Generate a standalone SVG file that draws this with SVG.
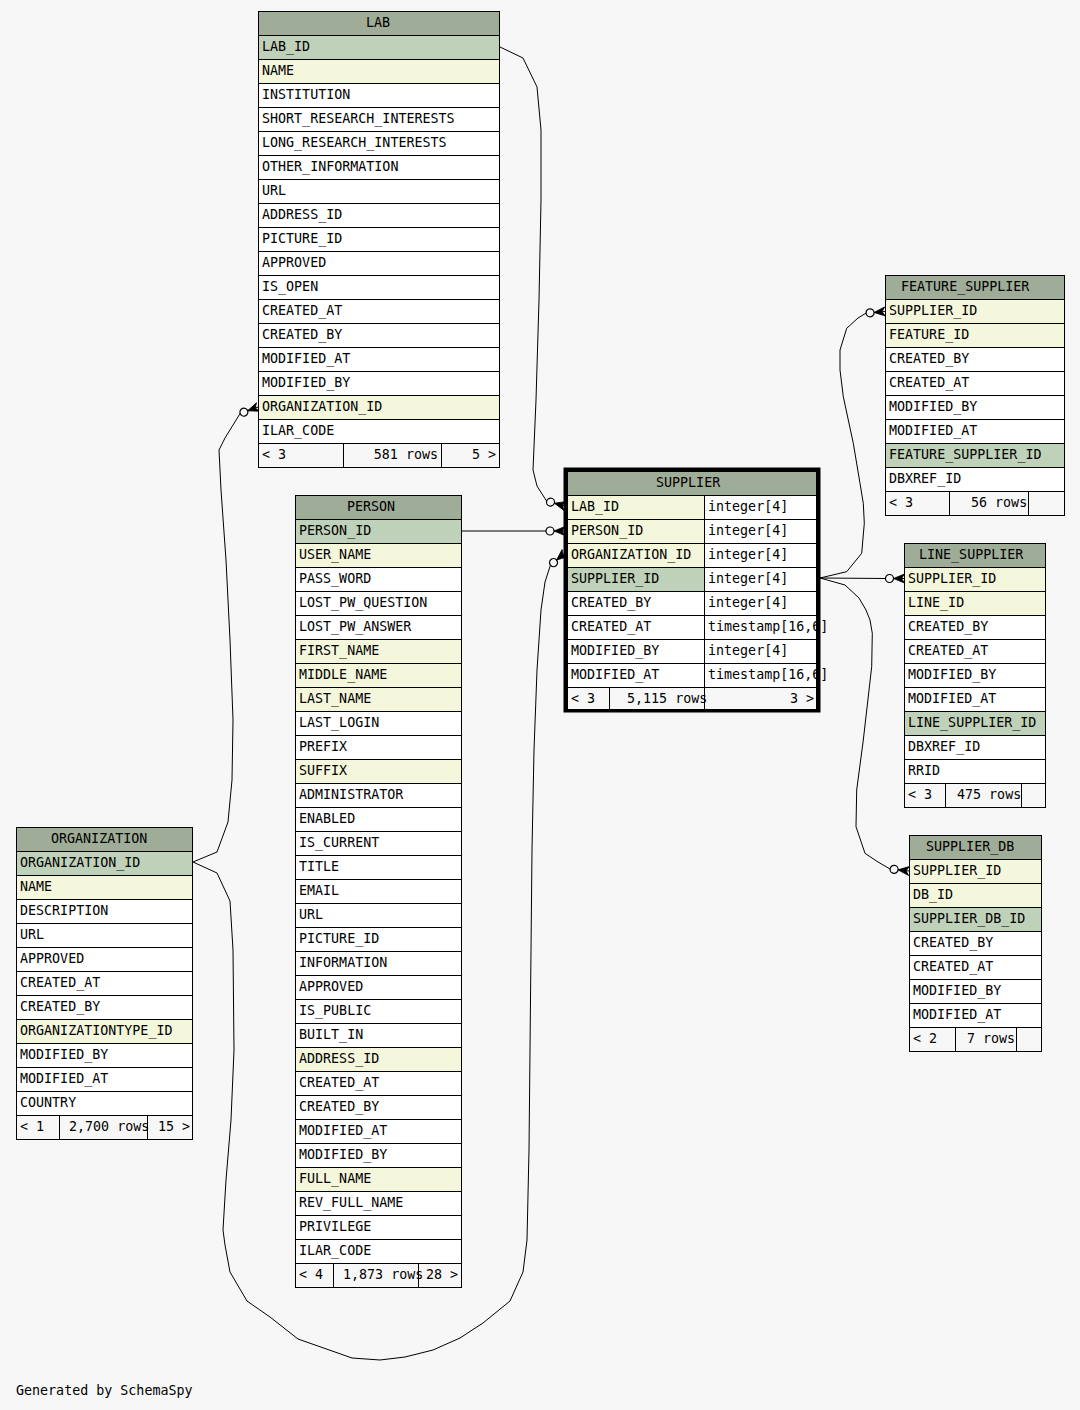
<svg xmlns="http://www.w3.org/2000/svg" xmlns:xlink="http://www.w3.org/1999/xlink" width="1080" height="1410" viewBox="0 0 1080 1410">
<style>
.t{font-family:"DejaVu Sans Mono","Liberation Mono",monospace;font-size:13.33px;fill:#000}
.e{text-anchor:end}
rect.c{stroke:#000;stroke-width:1}
.h{fill:#9fac97}.p{fill:#bfd1b9}.i{fill:#f4f7dc}.w{fill:#fff}.f{fill:#f7f7f7}
.ln{fill:none;stroke:#000;stroke-width:1}
.dv{stroke:#000;stroke-width:1}
</style>
<defs>
<g id="crow">
<circle cx="-15" cy="0" r="4" fill="none" stroke="#000" stroke-width="1.2"/>
<polygon points="-11,0 0,-4.5 -3,0 0,4.5" fill="#000" stroke="#000" stroke-width="0.8"/>
<line x1="-11" y1="0" x2="0" y2="0" stroke="#000" stroke-width="1"/>
</g>
</defs>
<rect x="0" y="0" width="1080" height="1410" fill="#f7f7f7"/>

<g id="connectors">
<polyline class="ln" points="500,47 523,58 537,87 541,130 541,200 539,300 536,400 533,470 537,486 546.6,501.1"/>
<use xlink:href="#crow" href="#crow" transform="translate(565,506) rotate(15)"/>
<polyline class="ln" points="461,531 546,531"/>
<use xlink:href="#crow" href="#crow" transform="translate(565,531)"/>
<polyline class="ln" points="193,862 217,873 230,901 233,950 234,1050 231,1120 226,1180 223,1230 225,1245 230,1272 247,1301 270,1317 298,1339 352,1358 380,1360 405,1357 433,1350 460,1338 483,1323 510,1301 523,1272 527,1240 529,1150 530,1050 531,950 532,850 534,750 537,670 541,610 545,582 550.4,565.2"/>
<use xlink:href="#crow" href="#crow" transform="translate(565,553) rotate(-40)"/>
<polyline class="ln" points="193,862 217,852 228,822 232,780 233,720 230,640 226,560 221,490 219,450 225,438 240.1,413.5"/>
<use xlink:href="#crow" href="#crow" transform="translate(258,407) rotate(-20)"/>
<polyline class="ln" points="820,578 846.7,571.7 861.7,553.3 864.3,523.3 863.3,503.3 860,483.3 853.3,443.3 848.3,420 843.3,396.7 840,370 840,350 846.7,328.3 858,318 866,313.1"/>
<use xlink:href="#crow" href="#crow" transform="translate(885,311.5) rotate(-5)"/>
<polyline class="ln" points="820,578 885.5,578.5"/>
<use xlink:href="#crow" href="#crow" transform="translate(904.5,578.5)"/>
<polyline class="ln" points="820,578 845,585 859,598 866,610 870,620 872.3,633.3 871.7,666.7 863.3,740 856.7,790 856,826.7 865,853.3 878,862 890.1,869"/>
<use xlink:href="#crow" href="#crow" transform="translate(909,871) rotate(6)"/>
</g>

<g id="LAB">
<rect class="c h" x="258.5" y="11.5" width="241" height="24"/><text class="t" x="366" y="27">LAB</text>
<rect class="c p" x="258.5" y="35.5" width="241" height="24"/><text class="t" x="262" y="51">LAB_ID</text>
<rect class="c i" x="258.5" y="59.5" width="241" height="24"/><text class="t" x="262" y="75">NAME</text>
<rect class="c w" x="258.5" y="83.5" width="241" height="24"/><text class="t" x="262" y="99">INSTITUTION</text>
<rect class="c w" x="258.5" y="107.5" width="241" height="24"/><text class="t" x="262" y="123">SHORT_RESEARCH_INTERESTS</text>
<rect class="c w" x="258.5" y="131.5" width="241" height="24"/><text class="t" x="262" y="147">LONG_RESEARCH_INTERESTS</text>
<rect class="c w" x="258.5" y="155.5" width="241" height="24"/><text class="t" x="262" y="171">OTHER_INFORMATION</text>
<rect class="c w" x="258.5" y="179.5" width="241" height="24"/><text class="t" x="262" y="195">URL</text>
<rect class="c w" x="258.5" y="203.5" width="241" height="24"/><text class="t" x="262" y="219">ADDRESS_ID</text>
<rect class="c w" x="258.5" y="227.5" width="241" height="24"/><text class="t" x="262" y="243">PICTURE_ID</text>
<rect class="c w" x="258.5" y="251.5" width="241" height="24"/><text class="t" x="262" y="267">APPROVED</text>
<rect class="c w" x="258.5" y="275.5" width="241" height="24"/><text class="t" x="262" y="291">IS_OPEN</text>
<rect class="c w" x="258.5" y="299.5" width="241" height="24"/><text class="t" x="262" y="315">CREATED_AT</text>
<rect class="c w" x="258.5" y="323.5" width="241" height="24"/><text class="t" x="262" y="339">CREATED_BY</text>
<rect class="c w" x="258.5" y="347.5" width="241" height="24"/><text class="t" x="262" y="363">MODIFIED_AT</text>
<rect class="c w" x="258.5" y="371.5" width="241" height="24"/><text class="t" x="262" y="387">MODIFIED_BY</text>
<rect class="c i" x="258.5" y="395.5" width="241" height="24"/><text class="t" x="262" y="411">ORGANIZATION_ID</text>
<rect class="c w" x="258.5" y="419.5" width="241" height="24"/><text class="t" x="262" y="435">ILAR_CODE</text>
<rect class="c f" x="258.5" y="443.5" width="241" height="24"/>
<line class="dv" x1="343.5" y1="443.5" x2="343.5" y2="467.5"/><line class="dv" x1="441.5" y1="443.5" x2="441.5" y2="467.5"/>
<text class="t" x="262" y="459">&lt; 3</text><text class="t e" x="438" y="459">581 rows</text><text class="t e" x="496" y="459">5 &gt;</text>
</g>

<g id="PERSON">
<rect class="c h" x="295.5" y="495.5" width="166" height="24"/><text class="t" x="347" y="511">PERSON</text>
<rect class="c p" x="295.5" y="519.5" width="166" height="24"/><text class="t" x="299" y="535">PERSON_ID</text>
<rect class="c i" x="295.5" y="543.5" width="166" height="24"/><text class="t" x="299" y="559">USER_NAME</text>
<rect class="c w" x="295.5" y="567.5" width="166" height="24"/><text class="t" x="299" y="583">PASS_WORD</text>
<rect class="c w" x="295.5" y="591.5" width="166" height="24"/><text class="t" x="299" y="607">LOST_PW_QUESTION</text>
<rect class="c w" x="295.5" y="615.5" width="166" height="24"/><text class="t" x="299" y="631">LOST_PW_ANSWER</text>
<rect class="c i" x="295.5" y="639.5" width="166" height="24"/><text class="t" x="299" y="655">FIRST_NAME</text>
<rect class="c i" x="295.5" y="663.5" width="166" height="24"/><text class="t" x="299" y="679">MIDDLE_NAME</text>
<rect class="c i" x="295.5" y="687.5" width="166" height="24"/><text class="t" x="299" y="703">LAST_NAME</text>
<rect class="c w" x="295.5" y="711.5" width="166" height="24"/><text class="t" x="299" y="727">LAST_LOGIN</text>
<rect class="c w" x="295.5" y="735.5" width="166" height="24"/><text class="t" x="299" y="751">PREFIX</text>
<rect class="c i" x="295.5" y="759.5" width="166" height="24"/><text class="t" x="299" y="775">SUFFIX</text>
<rect class="c w" x="295.5" y="783.5" width="166" height="24"/><text class="t" x="299" y="799">ADMINISTRATOR</text>
<rect class="c w" x="295.5" y="807.5" width="166" height="24"/><text class="t" x="299" y="823">ENABLED</text>
<rect class="c w" x="295.5" y="831.5" width="166" height="24"/><text class="t" x="299" y="847">IS_CURRENT</text>
<rect class="c w" x="295.5" y="855.5" width="166" height="24"/><text class="t" x="299" y="871">TITLE</text>
<rect class="c w" x="295.5" y="879.5" width="166" height="24"/><text class="t" x="299" y="895">EMAIL</text>
<rect class="c w" x="295.5" y="903.5" width="166" height="24"/><text class="t" x="299" y="919">URL</text>
<rect class="c w" x="295.5" y="927.5" width="166" height="24"/><text class="t" x="299" y="943">PICTURE_ID</text>
<rect class="c w" x="295.5" y="951.5" width="166" height="24"/><text class="t" x="299" y="967">INFORMATION</text>
<rect class="c w" x="295.5" y="975.5" width="166" height="24"/><text class="t" x="299" y="991">APPROVED</text>
<rect class="c w" x="295.5" y="999.5" width="166" height="24"/><text class="t" x="299" y="1015">IS_PUBLIC</text>
<rect class="c w" x="295.5" y="1023.5" width="166" height="24"/><text class="t" x="299" y="1039">BUILT_IN</text>
<rect class="c i" x="295.5" y="1047.5" width="166" height="24"/><text class="t" x="299" y="1063">ADDRESS_ID</text>
<rect class="c w" x="295.5" y="1071.5" width="166" height="24"/><text class="t" x="299" y="1087">CREATED_AT</text>
<rect class="c w" x="295.5" y="1095.5" width="166" height="24"/><text class="t" x="299" y="1111">CREATED_BY</text>
<rect class="c w" x="295.5" y="1119.5" width="166" height="24"/><text class="t" x="299" y="1135">MODIFIED_AT</text>
<rect class="c w" x="295.5" y="1143.5" width="166" height="24"/><text class="t" x="299" y="1159">MODIFIED_BY</text>
<rect class="c i" x="295.5" y="1167.5" width="166" height="24"/><text class="t" x="299" y="1183">FULL_NAME</text>
<rect class="c w" x="295.5" y="1191.5" width="166" height="24"/><text class="t" x="299" y="1207">REV_FULL_NAME</text>
<rect class="c w" x="295.5" y="1215.5" width="166" height="24"/><text class="t" x="299" y="1231">PRIVILEGE</text>
<rect class="c w" x="295.5" y="1239.5" width="166" height="24"/><text class="t" x="299" y="1255">ILAR_CODE</text>
<rect class="c f" x="295.5" y="1263.5" width="166" height="24"/>
<text class="t" x="299" y="1279">&lt; 4</text><text class="t" x="343" y="1279">1,873 rows</text><text class="t e" x="458" y="1279">28 &gt;</text>
<line class="dv" x1="333.5" y1="1263.5" x2="333.5" y2="1287.5"/><line class="dv" x1="418.5" y1="1263.5" x2="418.5" y2="1287.5"/>
</g>

<g id="ORGANIZATION">
<rect class="c h" x="16.5" y="827.5" width="176" height="24"/><text class="t" x="51" y="843">ORGANIZATION</text>
<rect class="c p" x="16.5" y="851.5" width="176" height="24"/><text class="t" x="20" y="867">ORGANIZATION_ID</text>
<rect class="c i" x="16.5" y="875.5" width="176" height="24"/><text class="t" x="20" y="891">NAME</text>
<rect class="c w" x="16.5" y="899.5" width="176" height="24"/><text class="t" x="20" y="915">DESCRIPTION</text>
<rect class="c w" x="16.5" y="923.5" width="176" height="24"/><text class="t" x="20" y="939">URL</text>
<rect class="c w" x="16.5" y="947.5" width="176" height="24"/><text class="t" x="20" y="963">APPROVED</text>
<rect class="c w" x="16.5" y="971.5" width="176" height="24"/><text class="t" x="20" y="987">CREATED_AT</text>
<rect class="c w" x="16.5" y="995.5" width="176" height="24"/><text class="t" x="20" y="1011">CREATED_BY</text>
<rect class="c i" x="16.5" y="1019.5" width="176" height="24"/><text class="t" x="20" y="1035">ORGANIZATIONTYPE_ID</text>
<rect class="c w" x="16.5" y="1043.5" width="176" height="24"/><text class="t" x="20" y="1059">MODIFIED_BY</text>
<rect class="c w" x="16.5" y="1067.5" width="176" height="24"/><text class="t" x="20" y="1083">MODIFIED_AT</text>
<rect class="c w" x="16.5" y="1091.5" width="176" height="24"/><text class="t" x="20" y="1107">COUNTRY</text>
<rect class="c f" x="16.5" y="1115.5" width="176" height="24"/>
<text class="t" x="20" y="1131">&lt; 1</text><text class="t" x="69" y="1131">2,700 rows</text><text class="t e" x="190" y="1131">15 &gt;</text>
<line class="dv" x1="59.5" y1="1115.5" x2="59.5" y2="1139.5"/><line class="dv" x1="147.5" y1="1115.5" x2="147.5" y2="1139.5"/>
</g>

<g id="SUPPLIER">
<rect class="c h" x="567.5" y="471.5" width="249" height="24"/><text class="t" x="656" y="487">SUPPLIER</text>
<rect class="c i" x="567.5" y="495.5" width="137" height="24"/><text class="t" x="571" y="511">LAB_ID</text>
<rect class="c i" x="567.5" y="519.5" width="137" height="24"/><text class="t" x="571" y="535">PERSON_ID</text>
<rect class="c i" x="567.5" y="543.5" width="137" height="24"/><text class="t" x="571" y="559">ORGANIZATION_ID</text>
<rect class="c p" x="567.5" y="567.5" width="137" height="24"/><text class="t" x="571" y="583">SUPPLIER_ID</text>
<rect class="c w" x="567.5" y="591.5" width="137" height="24"/><text class="t" x="571" y="607">CREATED_BY</text>
<rect class="c w" x="567.5" y="615.5" width="137" height="24"/><text class="t" x="571" y="631">CREATED_AT</text>
<rect class="c w" x="567.5" y="639.5" width="137" height="24"/><text class="t" x="571" y="655">MODIFIED_BY</text>
<rect class="c w" x="567.5" y="663.5" width="137" height="24"/><text class="t" x="571" y="679">MODIFIED_AT</text>
<rect class="c w" x="704.5" y="495.5" width="112" height="24"/><text class="t" x="708" y="511">integer[4]</text>
<rect class="c w" x="704.5" y="519.5" width="112" height="24"/><text class="t" x="708" y="535">integer[4]</text>
<rect class="c w" x="704.5" y="543.5" width="112" height="24"/><text class="t" x="708" y="559">integer[4]</text>
<rect class="c w" x="704.5" y="567.5" width="112" height="24"/><text class="t" x="708" y="583">integer[4]</text>
<rect class="c w" x="704.5" y="591.5" width="112" height="24"/><text class="t" x="708" y="607">integer[4]</text>
<rect class="c w" x="704.5" y="615.5" width="112" height="24"/><text class="t" x="708" y="631">timestamp[16,6]</text>
<rect class="c w" x="704.5" y="639.5" width="112" height="24"/><text class="t" x="708" y="655">integer[4]</text>
<rect class="c w" x="704.5" y="663.5" width="112" height="24"/><text class="t" x="708" y="679">timestamp[16,6]</text>
<rect class="c f" x="567.5" y="687.5" width="249" height="22"/>
<text class="t" x="571" y="703">&lt; 3</text><text class="t" x="627" y="703">5,115 rows</text><text class="t e" x="814" y="703">3 &gt;</text>
<line class="dv" x1="609.5" y1="687.5" x2="609.5" y2="709.5"/><line class="dv" x1="704.5" y1="687.5" x2="704.5" y2="709.5"/>
<rect x="565.25" y="469.25" width="253.5" height="241.5" fill="none" stroke="#000" stroke-width="3.5"/>
</g>

<g id="FEATURE_SUPPLIER">
<rect class="c h" x="885.5" y="275.5" width="179" height="24"/><text class="t" x="901" y="291">FEATURE_SUPPLIER</text>
<rect class="c i" x="885.5" y="299.5" width="179" height="24"/><text class="t" x="889" y="315">SUPPLIER_ID</text>
<rect class="c i" x="885.5" y="323.5" width="179" height="24"/><text class="t" x="889" y="339">FEATURE_ID</text>
<rect class="c w" x="885.5" y="347.5" width="179" height="24"/><text class="t" x="889" y="363">CREATED_BY</text>
<rect class="c w" x="885.5" y="371.5" width="179" height="24"/><text class="t" x="889" y="387">CREATED_AT</text>
<rect class="c w" x="885.5" y="395.5" width="179" height="24"/><text class="t" x="889" y="411">MODIFIED_BY</text>
<rect class="c w" x="885.5" y="419.5" width="179" height="24"/><text class="t" x="889" y="435">MODIFIED_AT</text>
<rect class="c p" x="885.5" y="443.5" width="179" height="24"/><text class="t" x="889" y="459">FEATURE_SUPPLIER_ID</text>
<rect class="c w" x="885.5" y="467.5" width="179" height="24"/><text class="t" x="889" y="483">DBXREF_ID</text>
<rect class="c f" x="885.5" y="491.5" width="179" height="24"/>
<text class="t" x="889" y="507">&lt; 3</text><text class="t" x="971" y="507">56 rows</text>
<line class="dv" x1="949.5" y1="491.5" x2="949.5" y2="515.5"/><line class="dv" x1="1028.5" y1="491.5" x2="1028.5" y2="515.5"/>
</g>

<g id="LINE_SUPPLIER">
<rect class="c h" x="904.5" y="543.5" width="141" height="24"/><text class="t" x="919" y="559">LINE_SUPPLIER</text>
<rect class="c i" x="904.5" y="567.5" width="141" height="24"/><text class="t" x="908" y="583">SUPPLIER_ID</text>
<rect class="c i" x="904.5" y="591.5" width="141" height="24"/><text class="t" x="908" y="607">LINE_ID</text>
<rect class="c w" x="904.5" y="615.5" width="141" height="24"/><text class="t" x="908" y="631">CREATED_BY</text>
<rect class="c w" x="904.5" y="639.5" width="141" height="24"/><text class="t" x="908" y="655">CREATED_AT</text>
<rect class="c w" x="904.5" y="663.5" width="141" height="24"/><text class="t" x="908" y="679">MODIFIED_BY</text>
<rect class="c w" x="904.5" y="687.5" width="141" height="24"/><text class="t" x="908" y="703">MODIFIED_AT</text>
<rect class="c p" x="904.5" y="711.5" width="141" height="24"/><text class="t" x="908" y="727">LINE_SUPPLIER_ID</text>
<rect class="c w" x="904.5" y="735.5" width="141" height="24"/><text class="t" x="908" y="751">DBXREF_ID</text>
<rect class="c w" x="904.5" y="759.5" width="141" height="24"/><text class="t" x="908" y="775">RRID</text>
<rect class="c f" x="904.5" y="783.5" width="141" height="24"/>
<text class="t" x="908" y="799">&lt; 3</text><text class="t" x="957" y="799">475 rows</text>
<line class="dv" x1="945.5" y1="783.5" x2="945.5" y2="807.5"/><line class="dv" x1="1021.5" y1="783.5" x2="1021.5" y2="807.5"/>
</g>

<g id="SUPPLIER_DB">
<rect class="c h" x="909.5" y="835.5" width="132" height="24"/><text class="t" x="926" y="851">SUPPLIER_DB</text>
<rect class="c i" x="909.5" y="859.5" width="132" height="24"/><text class="t" x="913" y="875">SUPPLIER_ID</text>
<rect class="c i" x="909.5" y="883.5" width="132" height="24"/><text class="t" x="913" y="899">DB_ID</text>
<rect class="c p" x="909.5" y="907.5" width="132" height="24"/><text class="t" x="913" y="923">SUPPLIER_DB_ID</text>
<rect class="c w" x="909.5" y="931.5" width="132" height="24"/><text class="t" x="913" y="947">CREATED_BY</text>
<rect class="c w" x="909.5" y="955.5" width="132" height="24"/><text class="t" x="913" y="971">CREATED_AT</text>
<rect class="c w" x="909.5" y="979.5" width="132" height="24"/><text class="t" x="913" y="995">MODIFIED_BY</text>
<rect class="c w" x="909.5" y="1003.5" width="132" height="24"/><text class="t" x="913" y="1019">MODIFIED_AT</text>
<rect class="c f" x="909.5" y="1027.5" width="132" height="24"/>
<text class="t" x="913" y="1043">&lt; 2</text><text class="t" x="967" y="1043">7 rows</text>
<line class="dv" x1="955.5" y1="1027.5" x2="955.5" y2="1051.5"/><line class="dv" x1="1016.5" y1="1027.5" x2="1016.5" y2="1051.5"/>
</g>

<text class="t" x="16" y="1395">Generated by SchemaSpy</text>
</svg>
